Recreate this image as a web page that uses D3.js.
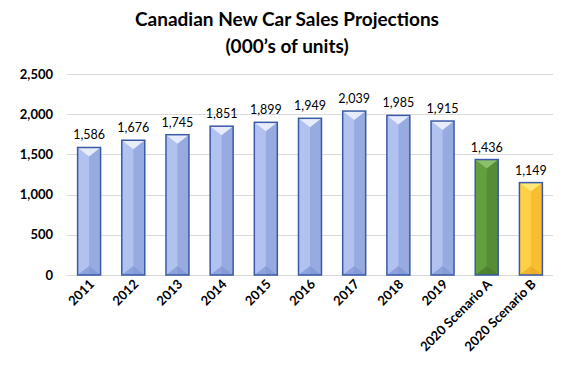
<!DOCTYPE html>
<html>
<head>
<meta charset="utf-8">
<script src="https://cdn.jsdelivr.net/npm/d3@7"></script>
<style>
  body { margin: 0; background: #fff; }
  svg { display: block; font-family: Lato, "Open Sans", sans-serif; }
</style>
</head>
<body>
<div id="chart"></div>
<script>
const width = 576;
const height = 373;

const categories = ["2011", "2012", "2013", "2014", "2015", "2016", "2017", "2018", "2019", "2020 Scenario  A", "2020 Scenario B"];
const sales = [1586, 1676, 1745, 1851, 1899, 1949, 2039, 1985, 1915, 1436, 1149];
const yTicks = [0, 500, 1000, 1500, 2000, 2500];

// left face, right face, top bevel, bottom bevel
const barStyles = {
  blue: { left: "#b2c2f0", right: "#97abe0", top: "#e6ecfc", bottom: "#7f95d2", stroke: "#3a5aa8" },
  green: { left: "#629f3f", right: "#568c36", top: "#8cc06a", bottom: "#4a7a2e", stroke: "#3a5aa8" },
  yellow: { left: "#ffcf45", right: "#f8bd30", top: "#ffe97a", bottom: "#eaa824", stroke: "#3a5aa8" },
};
const barKinds = ["blue", "blue", "blue", "blue", "blue", "blue", "blue", "blue", "blue", "green", "yellow"];

const margin = { top: 74, right: 23, bottom: 98, left: 67 };

const svg = d3.select("#chart")
  .append("svg")
  .attr("width", width)
  .attr("height", height);

const x = d3.scaleBand()
  .domain(categories)
  .range([margin.left, width - margin.right])
  .paddingInner(0.48)
  .paddingOuter(0.24);

const y = d3.scaleLinear()
  .domain([0, 2500])
  .range([height - margin.bottom, margin.top]);

const fmt = d3.format(",");

// title
svg.append("text")
  .attr("x", width / 2 - 1)
  .attr("y", 26)
  .attr("text-anchor", "middle")
  .attr("font-size", 19)
  .attr("font-weight", "bold")
  .text("Canadian New Car Sales Projections");

svg.append("text")
  .attr("x", width / 2 - 1)
  .attr("y", 53)
  .attr("text-anchor", "middle")
  .attr("font-size", 19)
  .attr("font-weight", "bold")
  .text("(000\u2019s of units)");

// gridlines
svg.append("g")
  .selectAll("line")
  .data(yTicks)
  .join("line")
  .attr("x1", margin.left)
  .attr("x2", width - margin.right)
  .attr("y1", d => Math.round(y(d)) + 0.5)
  .attr("y2", d => Math.round(y(d)) + 0.5)
  .attr("stroke", "#d9d9d9")
  .attr("stroke-width", 1);

// y axis labels
const yAxis = d3.axisLeft(y).tickValues(yTicks).tickFormat(fmt).tickSize(0).tickPadding(14);
svg.append("g")
  .attr("transform", `translate(${margin.left},0)`)
  .call(yAxis)
  .call(g => g.select(".domain").remove())
  .call(g => g.selectAll("text")
    .attr("font-family", "Lato, 'Open Sans', sans-serif")
    .attr("font-size", 13)
    .attr("font-weight", "bold")
    .attr("fill", "#000"));

// bars with bevel look
const bw = x.bandwidth();
const bevel = Math.min(9, bw * 0.4);

const bars = svg.append("g")
  .selectAll("g")
  .data(sales.map((v, i) => ({ cat: categories[i], value: v, kind: barKinds[i] })))
  .join("g")
  .attr("transform", d => `translate(${x(d.cat)},${y(d.value)})`);

bars.each(function(d) {
  const g = d3.select(this);
  const s = barStyles[d.kind];
  const h = y(0) - y(d.value);
  g.append("rect").attr("width", bw).attr("height", h).attr("fill", s.left);
  g.append("rect").attr("x", bw / 2).attr("width", bw / 2).attr("height", h).attr("fill", s.right);
  g.append("path")
    .attr("d", `M0,0 L${bw},0 L${bw / 2},${bevel} Z`)
    .attr("fill", s.top);
  g.append("path")
    .attr("d", `M0,${h} L${bw},${h} L${bw / 2},${h - bevel} Z`)
    .attr("fill", s.bottom)
    .attr("opacity", 0.7);
  g.append("rect")
    .attr("width", bw)
    .attr("height", h)
    .attr("fill", "none")
    .attr("stroke", s.stroke)
    .attr("stroke-width", 1.5);
});

// value labels
svg.append("g")
  .selectAll("text")
  .data(sales)
  .join("text")
  .attr("x", (d, i) => x(categories[i]) + bw / 2)
  .attr("y", d => y(d) - 8)
  .attr("text-anchor", "middle")
  .attr("font-size", 12.5)
  .attr("fill", "#000")
  .text(d => fmt(d));

// x labels rotated
svg.append("g")
  .selectAll("text")
  .data(categories)
  .join("text")
  .attr("transform", d => `translate(${x(d) + bw / 2 + 6},${y(0) + 10}) rotate(-45)`)
  .attr("text-anchor", "end")
  .attr("font-size", 13)
  .attr("font-weight", "bold")
  .attr("fill", "#000")
  .text(d => d);
</script>
</body>
</html>
